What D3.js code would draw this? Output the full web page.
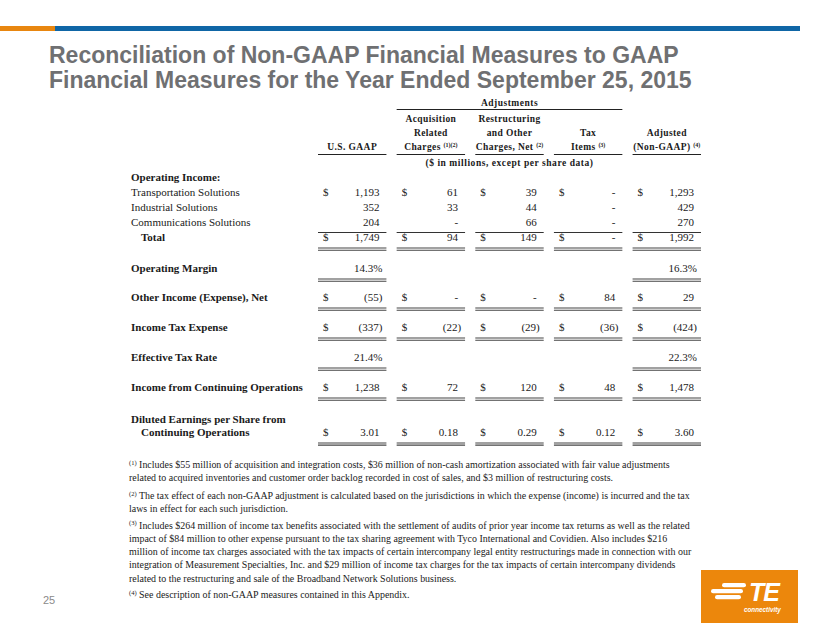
<!DOCTYPE html>
<html><head><meta charset="utf-8">
<script src="https://cdn.jsdelivr.net/npm/d3@7/dist/d3.min.js"></script>
<style>
html,body{margin:0;padding:0;background:#fff;}
svg{display:block;}
</style></head>
<body>
<svg id="c" width="830" height="623"></svg>
<script>
// ---------- data ----------
const titleLines = ["Reconciliation of Non-GAAP Financial Measures to GAAP",
                    "Financial Measures for the Year Ended September 25, 2015"];
const columnKeys = ["gaap","acq","restr","tax","adj"];
const columnHeaders = [
  [["U.S. GAAP",""]],
  [["Acquisition",""],["Related",""],["Charges ","(1)(2)"]],
  [["Restructuring",""],["and Other",""],["Charges, Net ","(2)"]],
  [["Tax",""],["Items ","(3)"]],
  [["Adjusted",""],["(Non-GAAP) ","(4)"]]
];
const rowLabels = [
  ["Operating Income:"], ["Transportation Solutions"], ["Industrial Solutions"],
  ["Communications Solutions"], ["Total"], ["Operating Margin"],
  ["Other Income (Expense), Net"], ["Income Tax Expense"], ["Effective Tax Rate"],
  ["Income from Continuing Operations"],
  ["Diluted Earnings per Share from", "Continuing Operations"]
];
const rowSlots   = [0, 1, 2, 3, 4, 6.07, 8, 10, 12, 14, 16.13];
const rowBold    = [true,false,false,false,true,true,true,true,true,true,true];
const rowIndent  = [0,0,0,0,1,0,0,0,0,0,0];
const rowDollar  = [false,true,false,false,true,false,true,true,false,true,true];
const gaapValues          = [null,"1,193","352","204","1,749","14.3%","(55)","(337)","21.4%","1,238","3.01"];
const acquisitionValues   = [null,"61","33","-","94",null,"-","(22)",null,"72","0.18"];
const restructuringValues = [null,"39","44","66","149",null,"-","(29)",null,"120","0.29"];
const taxItemValues       = [null,"-","-","-","-",null,"84","(36)",null,"48","0.12"];
const adjustedValues      = [null,"1,293","429","270","1,992","16.3%","29","(424)","22.3%","1,478","3.60"];
const footnotes = [
  ["(1)", [" Includes $55 million of acquisition and integration costs, $36 million of non-cash amortization associated with fair value adjustments",
           "related to acquired inventories and customer order backlog recorded in cost of sales, and $3 million of restructuring costs."]],
  ["(2)", [" The tax effect of each non-GAAP adjustment is calculated based on the jurisdictions in which the expense (income) is incurred and the tax",
           "laws in effect for each such jurisdiction."]],
  ["(3)", [" Includes $264 million of income tax benefits associated with the settlement of audits of prior year income tax returns as well as the related",
           "impact of $84 million to other expense pursuant to the tax sharing agreement with Tyco International and Covidien. Also includes $216",
           "million of income tax charges associated with the tax impacts of certain intercompany legal entity restructurings made in connection with our",
           "integration of Measurement Specialties, Inc. and $29 million of income tax charges for the tax impacts of certain intercompany dividends",
           "related to the restructuring and sale of the Broadband Network Solutions business."]],
  ["(4)", [" See description of non-GAAP measures contained in this Appendix."]]
];
const footnoteStarts = [0, 2.35, 4.6, 9.85];
const pageNumber = "25";

// ---------- drawing ----------
const svg = d3.select("#c");
const serif = "'Liberation Serif','Times New Roman',serif";
const sans = "'Liberation Sans',Arial,sans-serif";
const ink = "#1a1a1a";

// top bar
svg.append("rect").attr("x",0).attr("y",26).attr("width",55).attr("height",5).attr("fill","#E8860F");
svg.append("rect").attr("x",55).attr("y",26).attr("width",745).attr("height",5).attr("fill","#0F66A6");

// title
svg.append("g").selectAll("text").data(titleLines).join("text")
  .attr("x",49).attr("y",(d,i)=>63+i*25)
  .attr("font-family",sans).attr("font-weight","bold").attr("font-size",23)
  .attr("fill","#6f7072").text(d=>d);

const values = {gaap:gaapValues, acq:acquisitionValues, restr:restructuringValues, tax:taxItemValues, adj:adjustedValues};

const x = d3.scaleBand().domain(columnKeys).range([318, 701]).paddingInner(0.13);
const y = d3.scaleLinear().domain([0,1]).range([181,196]);

// Adjustments header
const adjL = x("acq"), adjR = x("tax")+x.bandwidth();
svg.append("text").attr("x",(adjL+adjR)/2).attr("y",106).attr("text-anchor","middle")
  .attr("font-family",serif).attr("font-weight","bold").attr("font-size",9.5).attr("letter-spacing",0.5)
  .attr("fill",ink).text("Adjustments");
svg.append("line").attr("x1",adjL).attr("x2",adjR).attr("y1",109.5).attr("y2",109.5)
  .attr("stroke","#222").attr("stroke-width",1.2);

// column headers (bottom aligned)
const hdrBase = 150, hdrStep = 14;
columnKeys.forEach((k,ci)=>{
  const lines = columnHeaders[ci];
  const cx = x(k)+x.bandwidth()/2;
  lines.forEach((ln,li)=>{
    const t = svg.append("text").attr("x",cx).attr("y",hdrBase-(lines.length-1-li)*hdrStep)
      .attr("text-anchor","middle").attr("font-family",serif).attr("font-weight","bold")
      .attr("font-size",9.5).attr("letter-spacing",0.4).attr("fill",ink);
    t.append("tspan").text(ln[0]);
    if (ln[1]) t.append("tspan").attr("font-size",6).attr("dy",-3).attr("letter-spacing",0).text(ln[1]);
  });
  svg.append("line").attr("x1",x(k)).attr("x2",x(k)+x.bandwidth()).attr("y1",154.5).attr("y2",154.5)
    .attr("stroke","#222").attr("stroke-width",1.2);
});
svg.append("text").attr("x",(adjL+adjR)/2).attr("y",166).attr("text-anchor","middle")
  .attr("font-family",serif).attr("font-weight","bold").attr("font-size",9.5).attr("letter-spacing",0.55)
  .attr("fill",ink).text("($ in millions, except per share data)");

// row labels
const labels = svg.append("g");
rowLabels.forEach((lines,ri)=>{
  lines.forEach((ln,li)=>{
    const yy = y(rowSlots[ri]) + li*13;
    labels.append("text").attr("x",131 + rowIndent[ri]*10 + (li>0?10:0)).attr("y",yy)
      .attr("font-family",serif).attr("font-weight",rowBold[ri]?"bold":"normal")
      .attr("font-size",11).attr("fill",ink).text(ln);
  });
});

// values
const cells = svg.append("g");
rowLabels.forEach((lines,ri)=>{
  const yy = y(rowSlots[ri]) + (lines.length-1)*13;
  columnKeys.forEach(k=>{
    const v = values[k][ri];
    if (v===null) return;
    const left = x(k), right = x(k)+x.bandwidth();
    if (rowDollar[ri]) {
      cells.append("text").attr("x",left+5).attr("y",yy).attr("font-family",serif)
        .attr("font-size",11).attr("fill",ink).text("$");
    }
    const pad = v.endsWith(")") || v.endsWith("%") ? 4 : 7;
    cells.append("text").attr("x",right-pad).attr("y",yy).attr("text-anchor","end")
      .attr("font-family",serif).attr("font-size",11).attr("fill",ink).text(v);
    if (ri===3) {
      cells.append("line").attr("x1",left).attr("x2",right).attr("y1",yy+6.5).attr("y2",yy+6.5)
        .attr("stroke","#333").attr("stroke-width",1);
    }
    if (ri>=4) {
      [0,2.2].forEach(o=>cells.append("line").attr("x1",left).attr("x2",right)
        .attr("y1",yy+7+o).attr("y2",yy+7+o).attr("stroke","#444").attr("stroke-width",1.1));
    }
  });
});

// footnotes
const fn = svg.append("g");
const fy = d3.scaleLinear().domain([0,1]).range([468,481.2]);
footnotes.forEach((f,fi)=>{
  f[1].forEach((ln,li)=>{
    const t = fn.append("text").attr("x",129).attr("y",fy(footnoteStarts[fi]+li))
      .attr("font-family",serif).attr("font-size",9.95).attr("fill",ink);
    if (li===0) t.append("tspan").attr("font-size",6.5).attr("dy",-3.5).text(f[0]);
    t.append("tspan").attr("dy",li===0?3.5:0).text(ln);
  });
});

// page number
svg.append("text").attr("x",43).attr("y",604).attr("font-family",sans).attr("font-size",11)
  .attr("fill","#8a8a8a").text(pageNumber);

// logo
const lg = svg.append("g");
lg.append("rect").attr("x",701).attr("y",570).attr("width",97).attr("height",53).attr("fill","#EC870C");
[[722,583,24],[711,589,32],[715,595,26]].forEach(b=>{
  lg.append("rect").attr("x",b[0]).attr("y",b[1]).attr("width",b[2]).attr("height",4.3)
    .attr("rx",2.15).attr("fill","#fff");
});
lg.append("text").attr("x",749).attr("y",601).attr("font-family",sans).attr("font-weight","bold")
  .attr("font-style","italic").attr("font-size",25).attr("letter-spacing",-1).attr("fill","#fff").text("TE");
lg.append("text").attr("x",744).attr("y",612).attr("font-family",sans).attr("font-weight","bold")
  .attr("font-style","italic").attr("font-size",6.3).attr("fill","#fff").text("connectivity");
</script>
</body></html>
